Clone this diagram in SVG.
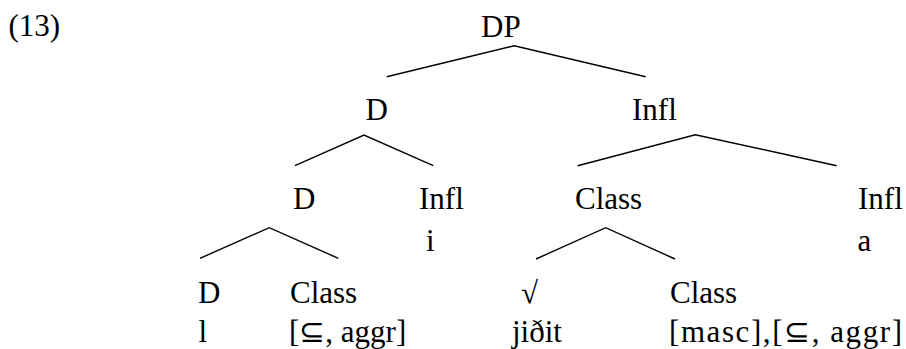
<svg xmlns="http://www.w3.org/2000/svg" width="906" height="349" viewBox="0 0 906 349">
<style>
.t { font-family: "Liberation Serif", "Times New Roman", serif; font-size: 31px; fill: #000; }
.e { fill: none; stroke: #000; stroke-width: 1.4; }
</style>
<rect width="906" height="349" fill="#fff"/>
<text id="label" class="t" x="8.5" y="36">(13)</text>
<g id="n-DP"><text class="t" x="481" y="37">DP</text></g>
<g id="n-D1"><text class="t" x="365.5" y="120">D</text></g>
<g id="n-Infl1"><text class="t" x="632" y="120">Infl</text></g>
<g id="n-D2"><text class="t" x="293" y="209">D</text></g>
<g id="n-Infl2"><text class="t" x="419" y="209">Infl</text><text class="t" x="426" y="251">i</text></g>
<g id="n-Class1"><text class="t" x="575" y="209">Class</text></g>
<g id="n-Infl3"><text class="t" x="858" y="209">Infl</text><text class="t" x="857.5" y="251">a</text></g>
<g id="n-D3"><text class="t" x="198" y="303">D</text><text class="t" x="198.5" y="342">l</text></g>
<g id="n-Class2"><text class="t" x="290" y="303">Class</text><text class="t" x="289" y="342">[⊆, aggr]</text></g>
<g id="n-Root"><text class="t" x="521" y="303">√</text><text class="t" x="512" y="342">jiðit</text></g>
<g id="n-Class3"><text class="t" x="670" y="303">Class</text><text class="t" x="669" y="342" textLength="233" lengthAdjust="spacing">[masc],[⊆, aggr]</text></g>
<g id="edges">
<polyline class="e" points="386.7,76.7 514.3,45.7 645.7,76.7"/>
<polyline class="e" points="295,165.7 364,135 433.3,165.7"/>
<polyline class="e" points="577.7,165.7 695.3,134.7 836.7,165.7"/>
<polyline class="e" points="200,258.3 269.3,227.7 338.3,258.3"/>
<polyline class="e" points="536,259 605.7,227.7 675,259"/>
</g>
</svg>
